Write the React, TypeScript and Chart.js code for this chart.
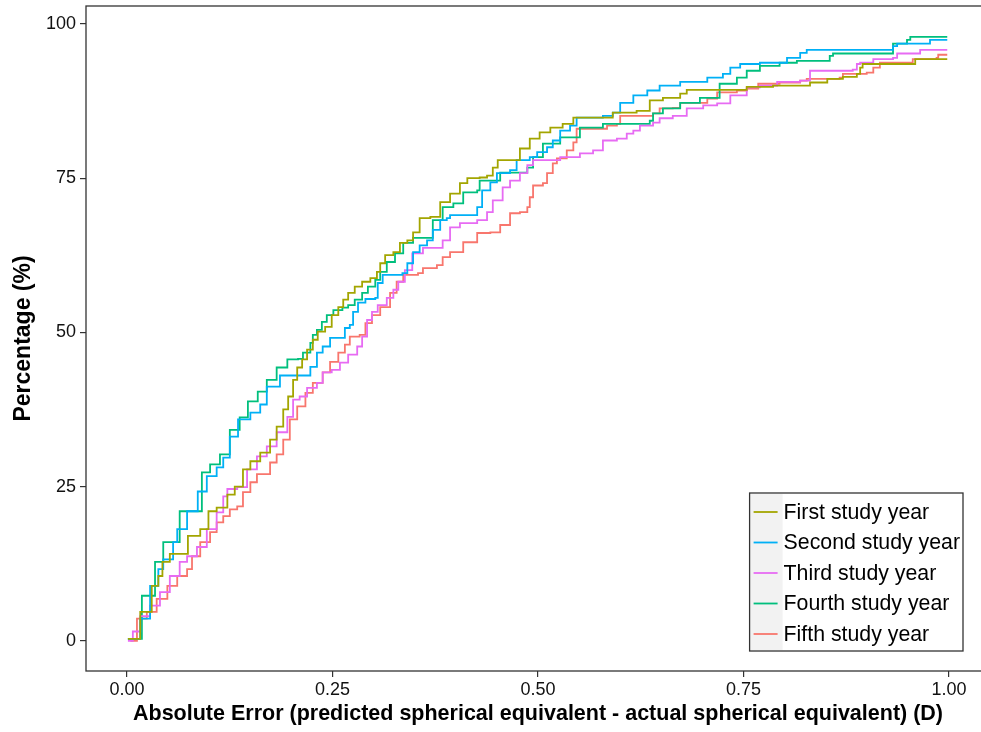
import React, { useEffect, useRef } from "react";
import { Chart, registerables } from "chart.js";

Chart.register(...registerables);

const seriesLabels = [
  "First study year",
  "Second study year",
  "Third study year",
  "Fourth study year",
  "Fifth study year",
];
const seriesColors = ["#A3A500", "#00B0F6", "#E76BF3", "#00BF7D", "#F8766D"];

// [absolute error (D), cumulative percentage (%)]
const firstYear: [number, number][] = [
  [0.001, 0.3], [0.016, 4.7], [0.03, 8.9], [0.038, 10.5], [0.043, 12.8], [0.052, 14.1],
  [0.064, 14.1], [0.074, 17.0], [0.089, 18.1], [0.099, 21.0], [0.109, 21.6], [0.122, 23.7],
  [0.131, 25.0], [0.141, 27.8], [0.15, 29.1], [0.162, 30.5], [0.174, 32.6], [0.182, 34.7],
  [0.19, 37.5], [0.196, 39.6], [0.202, 42.3], [0.207, 44.3], [0.213, 45.6], [0.219, 47.2],
  [0.226, 48.8], [0.232, 50.1], [0.241, 50.9], [0.249, 52.8], [0.257, 54.1], [0.263, 55.3],
  [0.269, 56.4], [0.277, 57.4], [0.286, 58.2], [0.296, 58.8], [0.304, 59.8], [0.308, 61.2],
  [0.314, 62.5], [0.324, 63.0], [0.332, 64.5], [0.341, 64.9], [0.348, 66.2], [0.356, 68.5],
  [0.369, 68.7], [0.381, 71.1], [0.393, 72.5], [0.405, 74.2], [0.414, 75.0], [0.429, 75.1],
  [0.438, 75.4], [0.445, 76.7], [0.451, 77.9], [0.47, 77.9], [0.478, 79.8], [0.49, 81.4],
  [0.502, 82.4], [0.515, 83.2], [0.53, 83.8], [0.543, 84.8], [0.584, 84.8], [0.591, 85.6],
  [0.62, 85.9], [0.636, 87.6], [0.652, 88.0], [0.673, 88.7], [0.681, 89.3], [0.754, 89.8],
  [0.786, 90.0], [0.831, 90.5], [0.852, 91.1], [0.871, 91.4], [0.888, 91.9], [0.892, 92.9],
  [0.895, 93.5], [0.953, 93.5], [0.959, 94.3], [0.998, 94.3],
];

const secondYear: [number, number][] = [
  [0.001, 0.3], [0.016, 3.6], [0.028, 8.9], [0.038, 11.6], [0.044, 13.2], [0.056, 16.0],
  [0.061, 18.1], [0.073, 21.0], [0.086, 24.2], [0.097, 26.7], [0.109, 28.1], [0.117, 29.7],
  [0.125, 33.1], [0.135, 35.9], [0.15, 37.0], [0.162, 38.3], [0.17, 41.2], [0.186, 43.0],
  [0.219, 43.0], [0.223, 44.4], [0.231, 46.7], [0.238, 47.7], [0.247, 49.1], [0.262, 49.1],
  [0.265, 50.7], [0.271, 51.2], [0.275, 53.3], [0.281, 54.8], [0.29, 55.4], [0.302, 55.6],
  [0.305, 58.0], [0.311, 59.3], [0.335, 59.6], [0.341, 61.2], [0.348, 63.0], [0.356, 64.1],
  [0.365, 64.9], [0.372, 66.6], [0.381, 68.2], [0.389, 68.5], [0.393, 69.0], [0.417, 69.0],
  [0.426, 70.3], [0.432, 73.0], [0.442, 74.3], [0.45, 75.8], [0.466, 76.3], [0.474, 77.9],
  [0.49, 78.4], [0.499, 79.2], [0.511, 80.0], [0.518, 81.1], [0.527, 82.7], [0.539, 83.5],
  [0.547, 84.8], [0.579, 85.1], [0.591, 85.6], [0.6, 87.2], [0.616, 88.4], [0.633, 89.2],
  [0.648, 90.0], [0.673, 90.6], [0.706, 91.3], [0.725, 91.9], [0.734, 92.9], [0.746, 93.5],
  [0.77, 93.7], [0.803, 94.5], [0.819, 95.3], [0.827, 95.8], [0.92, 95.8], [0.932, 96.4],
  [0.937, 96.8], [0.973, 96.8], [0.977, 97.4], [0.998, 97.4],
];

const thirdYear: [number, number][] = [
  [0.001, 0.0], [0.007, 1.5], [0.016, 4.0], [0.028, 5.7], [0.04, 7.9], [0.052, 10.5],
  [0.064, 12.8], [0.073, 13.7], [0.085, 15.2], [0.097, 18.1], [0.109, 20.8], [0.117, 23.4],
  [0.122, 24.6], [0.134, 24.9], [0.146, 27.8], [0.158, 29.9], [0.17, 31.5], [0.182, 33.8],
  [0.195, 36.3], [0.202, 39.1], [0.21, 39.6], [0.219, 41.0], [0.231, 41.8], [0.238, 43.5],
  [0.249, 43.9], [0.259, 45.1], [0.269, 46.4], [0.28, 47.7], [0.286, 49.3], [0.292, 52.0],
  [0.298, 53.3], [0.305, 54.4], [0.316, 55.6], [0.324, 56.9], [0.33, 58.2], [0.338, 60.1],
  [0.347, 62.8], [0.36, 63.7], [0.377, 63.7], [0.384, 64.9], [0.393, 67.0], [0.405, 67.7],
  [0.426, 68.2], [0.438, 69.5], [0.445, 71.4], [0.457, 73.5], [0.466, 74.6], [0.478, 75.8],
  [0.487, 77.1], [0.494, 77.9], [0.518, 77.9], [0.527, 78.4], [0.543, 78.4], [0.551, 79.0],
  [0.567, 79.5], [0.579, 81.1], [0.596, 81.4], [0.608, 82.2], [0.616, 82.7], [0.624, 83.5],
  [0.64, 84.0], [0.648, 84.7], [0.664, 85.1], [0.681, 86.3], [0.701, 86.8], [0.718, 87.1],
  [0.734, 88.4], [0.754, 89.7], [0.77, 90.0], [0.791, 90.6], [0.819, 90.8], [0.831, 92.4],
  [0.883, 92.6], [0.888, 93.5], [0.892, 93.7], [0.908, 94.3], [0.932, 94.5], [0.937, 95.2],
  [0.953, 95.2], [0.965, 95.8], [0.998, 95.8],
];

const fourthYear: [number, number][] = [
  [0.001, 0.3], [0.018, 7.3], [0.034, 12.8], [0.044, 16.0], [0.064, 21.0], [0.091, 27.3],
  [0.101, 28.6], [0.113, 30.2], [0.125, 34.2], [0.137, 36.2], [0.147, 38.8], [0.159, 40.4],
  [0.17, 42.3], [0.182, 44.3], [0.195, 45.6], [0.208, 45.7], [0.214, 46.7], [0.223, 48.3],
  [0.226, 49.6], [0.231, 50.4], [0.237, 51.7], [0.243, 52.8], [0.251, 53.6], [0.262, 54.0],
  [0.269, 54.4], [0.277, 55.3], [0.286, 56.4], [0.293, 57.4], [0.302, 58.5], [0.308, 59.8],
  [0.316, 61.4], [0.326, 62.8], [0.336, 64.5], [0.348, 65.3], [0.372, 68.2], [0.384, 70.3],
  [0.397, 70.9], [0.409, 72.7], [0.426, 73.0], [0.429, 74.6], [0.454, 75.9], [0.487, 76.7],
  [0.494, 78.4], [0.506, 80.6], [0.527, 81.6], [0.551, 83.2], [0.579, 83.8], [0.636, 84.3],
  [0.64, 85.5], [0.652, 86.3], [0.673, 87.2], [0.697, 88.0], [0.721, 90.3], [0.742, 91.3],
  [0.754, 92.4], [0.77, 93.2], [0.794, 93.7], [0.815, 94.0], [0.855, 94.8], [0.859, 95.2],
  [0.928, 95.2], [0.932, 96.8], [0.949, 97.4], [0.953, 97.9], [0.998, 97.9],
];

const fifthYear: [number, number][] = [
  [0.004, 0.0], [0.012, 3.6], [0.024, 4.7], [0.036, 6.8], [0.049, 8.9], [0.061, 10.5],
  [0.073, 11.6], [0.079, 13.7], [0.089, 16.0], [0.101, 17.6], [0.109, 19.2], [0.117, 20.2],
  [0.125, 21.3], [0.134, 21.8], [0.141, 24.1], [0.15, 25.7], [0.158, 27.0], [0.17, 27.0],
  [0.174, 28.9], [0.182, 30.2], [0.19, 32.6], [0.198, 35.9], [0.207, 38.0], [0.217, 40.2],
  [0.226, 41.8], [0.238, 43.5], [0.247, 45.2], [0.257, 46.7], [0.265, 48.0], [0.271, 49.3],
  [0.283, 49.6], [0.29, 51.5], [0.298, 52.8], [0.308, 54.1], [0.32, 56.4], [0.328, 58.2],
  [0.336, 59.3], [0.354, 59.6], [0.36, 60.4], [0.377, 60.9], [0.384, 62.2], [0.393, 63.0],
  [0.409, 64.6], [0.426, 66.1], [0.442, 66.2], [0.454, 67.4], [0.466, 69.3], [0.478, 69.5],
  [0.487, 70.3], [0.49, 71.9], [0.494, 73.8], [0.506, 74.2], [0.511, 75.8], [0.518, 77.4],
  [0.523, 78.2], [0.535, 79.5], [0.543, 80.8], [0.547, 83.0], [0.584, 83.5], [0.596, 83.8],
  [0.6, 85.1], [0.64, 85.5], [0.648, 86.3], [0.664, 86.4], [0.673, 87.2], [0.693, 87.2],
  [0.706, 87.9], [0.718, 88.9], [0.742, 89.2], [0.754, 89.5], [0.768, 90.3], [0.794, 90.5],
  [0.819, 90.8], [0.827, 91.1], [0.867, 91.3], [0.871, 91.9], [0.9, 92.1], [0.908, 92.9],
  [0.916, 93.7], [0.956, 94.3], [0.985, 94.5], [0.987, 95.0], [0.998, 95.0],
];

const seriesData = [firstYear, secondYear, thirdYear, fourthYear, fifthYear];

const xTickValues = [0, 0.25, 0.5, 0.75, 1];
const xTickLabels = ["0.00", "0.25", "0.50", "0.75", "1.00"];
const yTickValues = [0, 25, 50, 75, 100];
const yTickLabels = ["0", "25", "50", "75", "100"];
const xAxisTitle =
  "Absolute Error (predicted spherical equivalent - actual spherical equivalent) (D)";
const yAxisTitle = "Percentage (%)";

const FONT = '"Liberation Sans", Arial, Helvetica, sans-serif';
const AXIS_COLOR = "#333333";

const panelBorder = {
  id: "panelBorder",
  afterDatasetsDraw(chart: any) {
    const { ctx, chartArea } = chart;
    const { left, top, right, bottom } = chartArea;
    ctx.save();
    ctx.strokeStyle = AXIS_COLOR;
    ctx.lineWidth = 1.3;
    ctx.strokeRect(left, top, right - left, bottom - top);
    ctx.restore();
  },
};

const insideLegend = {
  id: "insideLegend",
  afterDraw(chart: any) {
    const { ctx, chartArea } = chart;
    const ds = chart.data.datasets;
    ctx.save();
    ctx.font = `21.3px ${FONT}`;
    const maxW = Math.max(...ds.map((d: any) => ctx.measureText(d.label).width));
    const keyW = 32;
    const rowH = 30.5;
    const w = keyW + 2 + maxW + 3;
    const h = 158;
    const right = chartArea.right - 27;
    const bottom = chartArea.bottom - 20;
    const left = right - w;
    const top = bottom - h;
    ctx.fillStyle = "#ffffff";
    ctx.fillRect(left, top, w, h);
    ctx.fillStyle = "#F2F2F2";
    ctx.fillRect(left + 1, top + 1, keyW, h - 2);
    ds.forEach((d: any, i: number) => {
      const cy = top + 3.75 + rowH * (i + 0.5);
      ctx.strokeStyle = d.borderColor;
      ctx.lineWidth = 1.8;
      ctx.beginPath();
      ctx.moveTo(left + 4, cy);
      ctx.lineTo(left + 28, cy);
      ctx.stroke();
      ctx.fillStyle = "#000000";
      ctx.textBaseline = "middle";
      ctx.textAlign = "left";
      ctx.fillText(d.label, left + keyW + 2, cy + 1);
    });
    ctx.strokeStyle = AXIS_COLOR;
    ctx.lineWidth = 1.3;
    ctx.strokeRect(left, top, w, h);
    ctx.restore();
  },
};

export default function App() {
  const canvasRef = useRef<HTMLCanvasElement | null>(null);

  useEffect(() => {
    if (!canvasRef.current) return;
    const chart = new Chart(canvasRef.current, {
      type: "line",
      data: {
        datasets: seriesLabels.map((label, i) => ({
          label,
          data: seriesData[i].map(([x, y]) => ({ x, y })),
          borderColor: seriesColors[i],
          backgroundColor: seriesColors[i],
          borderWidth: 1.8,
          pointRadius: 0,
          stepped: "before" as const,
          fill: false,
        })),
      },
      options: {
        responsive: false,
        animation: false,
        layout: { padding: { top: 6, left: 0, right: 0, bottom: 0 } },
        plugins: {
          legend: { display: false },
          tooltip: { enabled: false },
        },
        scales: {
          x: {
            type: "linear",
            min: -0.05,
            max: 1.05,
            afterBuildTicks: (s: any) => {
              s.ticks = xTickValues.map((v) => ({ value: v }));
            },
            afterFit: (s: any) => {
              s.height = 61;
              s.paddingLeft = 0;
              s.paddingRight = 0;
            },
            ticks: {
              autoSkip: false,
              maxRotation: 0,
              padding: 2,
              color: "#111111",
              font: { family: FONT, size: 18 },
              callback: (_v: any, i: number) => xTickLabels[i],
            },
            grid: {
              drawOnChartArea: false,
              drawTicks: true,
              tickLength: 6,
              color: AXIS_COLOR,
              lineWidth: 1.2,
            },
            border: { display: false },
            title: {
              display: true,
              text: xAxisTitle,
              color: "#000000",
              font: { family: FONT, size: 21.5, weight: "bold" },
              padding: { top: 0, bottom: 5 },
            },
          },
          y: {
            type: "linear",
            min: -4.9,
            max: 102.9,
            afterBuildTicks: (s: any) => {
              s.ticks = yTickValues.map((v) => ({ value: v }));
            },
            afterFit: (s: any) => {
              s.width = 86;
              s.paddingTop = 0;
              s.paddingBottom = 0;
            },
            ticks: {
              autoSkip: false,
              padding: 4,
              color: "#111111",
              font: { family: FONT, size: 18 },
              callback: (_v: any, i: number) => yTickLabels[i],
            },
            grid: {
              drawOnChartArea: false,
              drawTicks: true,
              tickLength: 6,
              color: AXIS_COLOR,
              lineWidth: 1.2,
            },
            border: { display: false },
            title: {
              display: true,
              text: yAxisTitle,
              color: "#000000",
              font: { family: FONT, size: 23, weight: "bold" },
              padding: { top: 10, bottom: 0 },
            },
          },
        },
      },
      plugins: [panelBorder, insideLegend],
    });
    return () => chart.destroy();
  }, []);

  return (
    <div
      style={{
        position: "fixed",
        left: 0,
        top: 0,
        width: 981,
        height: 732,
        overflow: "hidden",
        background: "#ffffff",
      }}
    >
      <canvas
        ref={canvasRef}
        width={990}
        height={732}
        style={{ display: "block", width: 990, height: 732 }}
      />
    </div>
  );
}
